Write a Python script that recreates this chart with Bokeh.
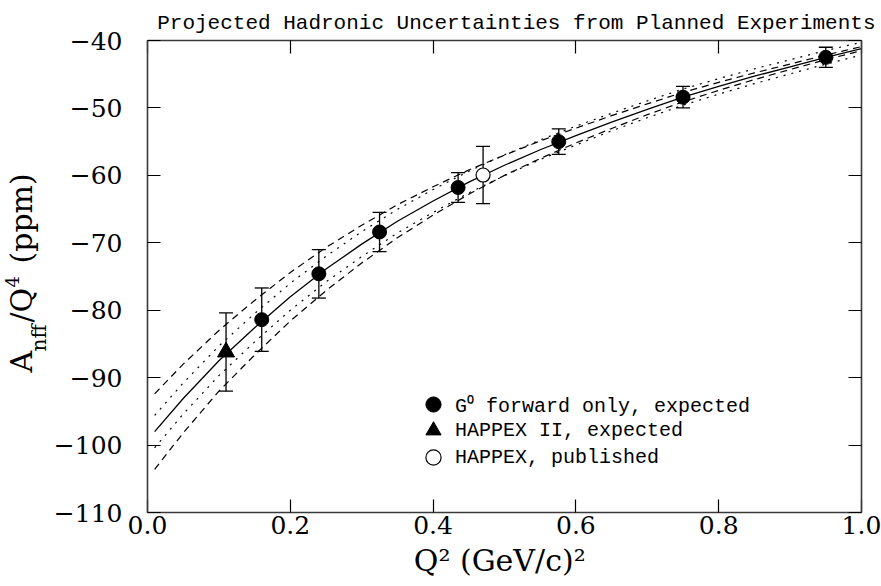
import math
from bokeh.plotting import figure
from bokeh.layouts import row
from bokeh.core.properties import value
from bokeh.models import (ColumnDataSource, Range1d, LinearAxis, FixedTicker,
                          Whisker, TeeHead, Legend, LegendItem)
from bokeh.embed import file_html
from bokeh.resources import INLINE

# ---------------- data ----------------
q2_grid = [0.01, 0.05, 0.10, 0.15, 0.20, 0.25, 0.30, 0.35, 0.40, 0.45, 0.50,
           0.55, 0.60, 0.65, 0.70, 0.75, 0.80, 0.85, 0.90, 0.95, 1.00]
a_central = [-98.0, -93.1, -87.5, -82.6, -78.0, -73.9, -70.2, -66.8, -63.8, -61.0, -58.5,
             -56.2, -54.1, -52.1, -50.2, -48.4, -46.8, -45.3, -43.9, -42.5, -41.2]
dash_halfwidth = [5.6, 5.1, 4.5, 4.05, 3.6, 3.2, 2.8, 2.45, 2.1, 1.8, 1.5,
                  1.3, 1.1, 0.95, 0.8, 0.7, 0.6, 0.5, 0.4, 0.35, 0.3]
dot_halfwidth = [2.4, 2.3, 2.2, 2.1, 2.0, 1.9, 1.85, 1.75, 1.7, 1.6, 1.55,
                 1.45, 1.4, 1.3, 1.25, 1.2, 1.15, 1.1, 1.05, 1.0, 0.95]

g0_q2 = [0.16, 0.24, 0.325, 0.435, 0.576, 0.75, 0.95]
g0_a = [-81.4, -74.6, -68.4, -61.8, -55.0, -48.4, -42.5]
g0_err = [4.7, 3.6, 2.9, 2.2, 1.9, 1.6, 1.5]

happex2_q2 = [0.11]
happex2_a = [-86.2]
happex2_err = [5.8]

happex_q2 = [0.47]
happex_a = [-59.95]
happex_err = [4.25]

x_ticks = [0.0, 0.2, 0.4, 0.6, 0.8, 1.0]
x_tick_labels = ["0.0", "0.2", "0.4", "0.6", "0.8", "1.0"]
y_ticks = [-110, -100, -90, -80, -70, -60, -50, -40]
y_tick_labels = ["\u2212110", "\u2212100", "\u221290", "\u221280", "\u221270",
                 "\u221260", "\u221250", "\u221240"]

title_text = "Projected Hadronic Uncertainties from Planned Experiments"
x_label = "Q\u00b2  (GeV/c)\u00b2"
legend_labels = ["G\u2070 forward only, expected", "HAPPEX II, expected", "HAPPEX, published"]
# y-axis label pieces: A_nff / Q^4 (ppm)
ylabel_texts = ["A", "nff", "/Q", "4", "(ppm)"]

LABEL_W = 50
TOP_B, BOTTOM_B = 40, 74

# ---------------- main figure ----------------
p = figure(width=881 - LABEL_W, height=586, x_range=Range1d(0, 1), y_range=Range1d(-110, -40),
           output_backend="svg", toolbar_location=None,
           min_border_left=147 - LABEL_W, min_border_right=20, min_border_top=TOP_B,
           min_border_bottom=BOTTOM_B,
           background_fill_color="white", border_fill_color="white", outline_line_color=None)
p.xgrid.grid_line_color = None
p.ygrid.grid_line_color = None

p.add_layout(LinearAxis(), "right")
p.add_layout(LinearAxis(), "above")

def style_axis(ax, ticks, labels, show):
    ax.ticker = FixedTicker(ticks=ticks)
    ax.major_tick_in = 13
    ax.major_tick_out = 0
    ax.minor_tick_in = 0
    ax.minor_tick_out = 0
    ax.minor_tick_line_color = None
    ax.axis_line_color = "#3a3a3a"
    ax.axis_line_width = 1.6
    ax.major_tick_line_color = "black"
    ax.major_tick_line_width = 1.2
    if show:
        ax.major_label_overrides = {t: l for t, l in zip(ticks, labels)}
        ax.major_label_text_font = "DejaVu Serif"
        ax.major_label_text_font_size = "25px"
        ax.major_label_text_color = "black"
    else:
        ax.major_label_overrides = {t: "" for t in ticks}
        ax.major_label_text_font_size = "0px"
        ax.major_label_standoff = 0

for ax in p.left:
    style_axis(ax, y_ticks, y_tick_labels, True)
    ax.major_label_standoff = 25
for ax in p.right:
    style_axis(ax, y_ticks, y_tick_labels, False)
for ax in p.below:
    style_axis(ax, x_ticks, x_tick_labels, True)
    ax.major_label_standoff = 3
    ax.axis_label = x_label
    ax.axis_label_text_font = "DejaVu Serif"
    ax.axis_label_text_font_size = "30px"
    ax.axis_label_text_font_style = "normal"
    ax.axis_label_text_color = "black"
    ax.axis_label_standoff = 6
for ax in p.above:
    style_axis(ax, x_ticks, x_tick_labels, False)

# title
p.title.text = title_text
p.title.text_font = "Liberation Mono"
p.title.text_font_size = "21px"
p.title.text_font_style = "normal"
p.title.text_color = "black"
p.title.align = "right"
p.title.offset = -14
p.title.standoff = 12

# ---------------- curves ----------------
dash_up = [a + h for a, h in zip(a_central, dash_halfwidth)]
dash_lo = [a - h for a, h in zip(a_central, dash_halfwidth)]
dot_up = [a + h for a, h in zip(a_central, dot_halfwidth)]
dot_lo = [a - h for a, h in zip(a_central, dot_halfwidth)]

p.line(q2_grid, dash_up, line_color="black", line_width=1.2, line_dash="7 5")
p.line(q2_grid, dash_lo, line_color="black", line_width=1.2, line_dash="7 5")
p.line(q2_grid, dot_up, line_color="black", line_width=1.2, line_dash="2 6")
p.line(q2_grid, dot_lo, line_color="black", line_width=1.2, line_dash="2 6")
p.line(q2_grid, a_central, line_color="black", line_width=1.3)

# ---------------- data points with error bars ----------------
def make_src(xs, ys, errs):
    return ColumnDataSource(dict(x=xs, y=ys,
                                 hi=[y + e for y, e in zip(ys, errs)],
                                 lo=[y - e for y, e in zip(ys, errs)]))

src_g0 = make_src(g0_q2, g0_a, g0_err)
src_h2 = make_src(happex2_q2, happex2_a, happex2_err)
src_h1 = make_src(happex_q2, happex_a, happex_err)

for src in (src_g0, src_h2, src_h1):
    w = Whisker(source=src, base="x", upper="hi", lower="lo",
                line_color="black", line_width=1.3, level="underlay",
                upper_head=TeeHead(size=14, line_color="black", line_width=1.3),
                lower_head=TeeHead(size=14, line_color="black", line_width=1.3))
    p.add_layout(w)

r_g0 = p.scatter("x", "y", source=src_g0, marker="circle", size=14,
                 fill_color="black", line_color="black")
r_h2 = p.scatter("x", "y", source=src_h2, marker="triangle", size=17,
                 fill_color="black", line_color="black")
r_h1 = p.scatter("x", "y", source=src_h1, marker="circle", size=14,
                 fill_color="white", line_color="black", line_width=1.2)

# one single-item legend per row so that the row pitch can be tighter than the glyph box
legend_renderers = [r_g0, r_h2, r_h1]
legend_y = [89, 63, 36]
for lab, rend, ly in zip(legend_labels, legend_renderers, legend_y):
    lg = Legend(items=[LegendItem(label=lab, renderers=[rend])],
                location=(267, ly), orientation="vertical",
                label_text_font="Liberation Mono", label_text_font_size="20px",
                label_text_color="black",
                glyph_width=38, glyph_height=38, label_standoff=3, spacing=0,
                label_height=20, padding=0, margin=0,
                border_line_color=None, background_fill_alpha=0)
    p.add_layout(lg)

# ---------------- y-axis label panel ----------------
# its frame is aligned with the main frame (same top/bottom borders); the ranges are
# chosen so that one data unit is one pixel, y counted up from the page bottom
pl = figure(width=LABEL_W, height=586, x_range=Range1d(0, LABEL_W),
            y_range=Range1d(BOTTOM_B, 586 - TOP_B),
            output_backend="svg", toolbar_location=None, title=None,
            x_axis_location=None, y_axis_location=None,
            min_border_left=0, min_border_right=0,
            min_border_top=TOP_B, min_border_bottom=BOTTOM_B,
            background_fill_color="white", border_fill_color="white", outline_line_color=None)
pl.xgrid.grid_line_color = None
pl.ygrid.grid_line_color = None

ylabel_x = [21, 38, 21, 11, 21]
ylabel_y = [214, 235, 264, 299, 323]
ylabel_size = ["30px", "20px", "30px", "18px", "30px"]
for t, xx, yy, fs in zip(ylabel_texts, ylabel_x, ylabel_y, ylabel_size):
    pl.text(x=[xx], y=[yy], text=[t], angle=math.pi / 2,
            text_font=value("DejaVu Serif"), text_font_size=value(fs),
            text_color="black", text_align="left", text_baseline="middle")

layout = row(pl, p)
open("out.html", "w").write(file_html(layout, INLINE))
